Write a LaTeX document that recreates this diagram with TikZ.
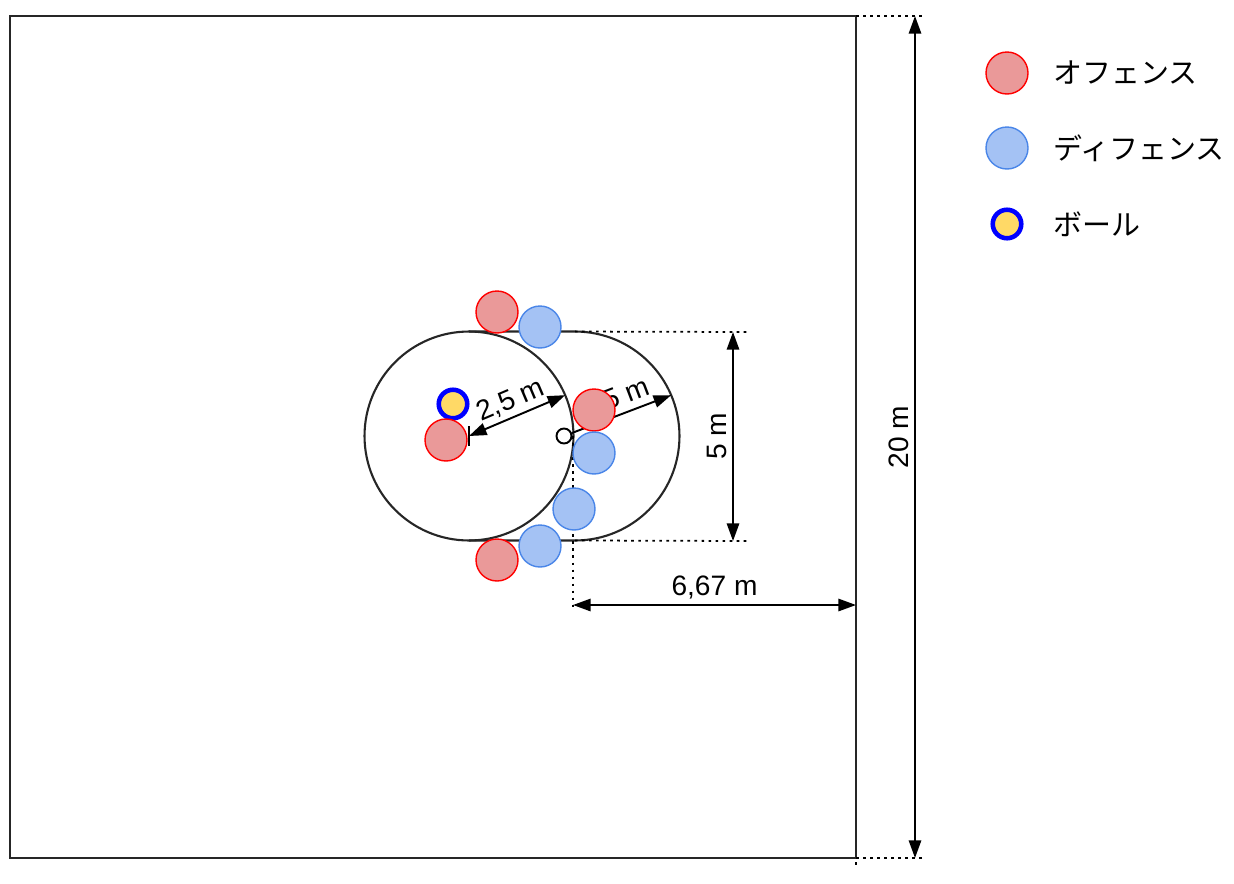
\documentclass[tikz,border=0pt]{standalone}
\usepackage{fontspec}
\setmainfont{Liberation Sans}
\newfontfamily\jpfont{Noto Sans CJK JP}
\usetikzlibrary{arrows.meta}
\definecolor{offfill}{HTML}{EA9999}
\definecolor{offline}{HTML}{FF0000}
\definecolor{deffill}{HTML}{A4C2F4}
\definecolor{defline}{HTML}{4A86E8}
\definecolor{ballfill}{HTML}{FFD966}
\definecolor{ballline}{HTML}{0000FF}

\begin{document}
\begin{tikzpicture}[x=0.02cm, y=-0.02cm,
  every node/.style = {font=\fontsize{16}{19}\selectfont},
  attacker/.style = {circle, draw=offline, fill=offfill, line width=0.8pt,
    minimum size=0.84cm, inner sep=0pt},
  defender/.style = {circle, draw=defline, fill=deffill, line width=0.8pt,
    minimum size=0.84cm, inner sep=0pt},
  ballmark/.style = {circle, draw=ballline, fill=ballfill, line width=2.6pt,
    minimum size=0.57cm, inner sep=0pt},
  ring/.style = {circle, draw, line width=1.1pt, minimum size=0.3cm, inner sep=0pt},
  dim/.style = {line width=1.1pt, {Triangle[length=10pt, width=7pt]}-{Triangle[length=10pt, width=7pt]}},
  guide/.style = {line width=1pt, dash pattern=on 1.5pt off 2.5pt},
  court/.style = {line width=1.2pt, black!85},
  legend/.style = {anchor=west, font=\fontsize{16.5}{19}\selectfont\jpfont}]

  \useasboundingbox (0,0) rectangle (1234,883);
  \draw[court] (10,16) rectangle (856,858);

  \coordinate (lc) at (469,436);
  \coordinate (rc) at (575,436);
  \draw[court] (lc) circle[radius=2.09cm];
  \draw[court] ([yshift=2.09cm]lc) -- ([yshift=2.09cm]rc)
    arc[start angle=90, end angle=-90, radius=2.09cm] -- ([yshift=-2.09cm]lc);

  \coordinate (t5) at (748,332);
  \coordinate (b5) at (748,541);
  \draw[guide] ([yshift=2.09cm]rc) -- (t5);
  \draw[guide] ([yshift=-2.09cm]rc) -- (b5);
  \coordinate (dtop) at (573,436);
  \coordinate (dbot) at (573,607);
  \draw[guide] (dtop) -- (dbot);
  \coordinate (ctop) at (922,16);
  \coordinate (cbot) at (922,858);
  \coordinate (cend) at (856,868);
  \draw[guide] (856,16) -- (ctop);
  \draw[guide] (cbot) -- (856,858) -- (cend);

  \coordinate (h5t) at (733,332);
  \coordinate (h5b) at (733,541);
  \draw[dim] (h5b) -- node[sloped, above, inner sep=3pt] {5 m} (h5t);
  \coordinate (h20t) at (915,16);
  \coordinate (h20b) at (915,858);
  \draw[dim] (h20b) -- node[sloped, above, inner sep=3pt] {20 m} (h20t);
  \coordinate (w1) at (573,605);
  \coordinate (w2) at (856,605);
  \draw[dim] (w1) -- node[above, inner sep=3pt] {6,67 m} (w2);

  \coordinate (le) at ([shift={(23:2.09cm)}]lc);
  \draw[dim] (lc) -- node[sloped, above, inner sep=2pt] {2,5 m} (le);
  \draw[line width=1pt] (lc) ++(0,-10) -- ++(0,20);
  \node[ring] (o) at (564,436) {};
  \coordinate (re) at ([shift={(23:2.09cm)}]rc);
  \draw[line width=1.1pt, -{Triangle[length=10pt, width=7pt]}] (o) -- node[sloped, above, inner sep=2pt] {2,5 m} (re);

  \node[attacker] (a1) at (497,312) {};
  \node[defender] (d1) at (540,327) {};
  \node[ballmark] (b) at (453,404) {};
  \node[attacker] (a2) at (446,440) {};
  \node[attacker] (a3) at (594,410) {};
  \node[defender] (d2) at (594,453) {};
  \node[defender] (d3) at (574,509) {};
  \node[defender] (d4) at (540,546) {};
  \node[attacker] (a4) at (497,560) {};

  \node[attacker] (k1) at (1007,73) {};
  \node[legend] (k1t) at (1047,73) {オフェンス};
  \node[defender] (k2) at (1007,148) {};
  \node[legend] (k2t) at (1047,148) {ディフェンス};
  \node[ballmark] (k3) at (1007,224) {};
  \node[legend] (k3t) at (1047,224) {ボール};
\end{tikzpicture}
\end{document}
